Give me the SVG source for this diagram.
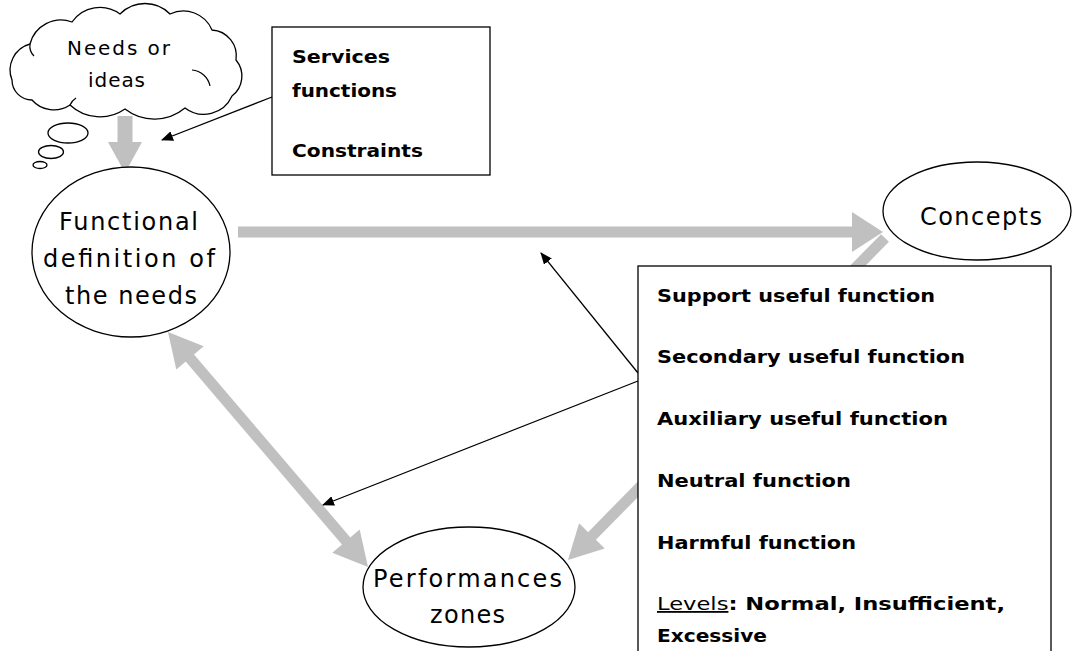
<svg xmlns="http://www.w3.org/2000/svg" width="1073" height="651" viewBox="0 0 1073 651">
<style>
.shape{fill:#fff;stroke:#000;stroke-width:1.3}
.lbl{font-family:"DejaVu Sans","Liberation Sans",sans-serif;fill:#000;text-anchor:middle}
.bold{font-family:"DejaVu Sans","Liberation Sans",sans-serif;font-weight:bold;font-size:18px;fill:#000}
.gshaft{stroke:#c0c0c0;stroke-width:11;fill:none}
.ghead{fill:#c0c0c0;stroke:none}
.thin{stroke:#000;stroke-width:1.3;fill:none}
.curl{fill:none;stroke:#000;stroke-width:1.2}
</style>
<defs>
<marker id="ah" markerWidth="12" markerHeight="10" refX="11" refY="5" orient="auto" markerUnits="userSpaceOnUse">
<path d="M0,0 L12,5 L0,10 Z" fill="#000"/>
</marker>
</defs>
<rect width="1073" height="651" fill="#fff"/>

<g id="connectors">
<!-- cloud to functional -->
<line class="gshaft" x1="125" y1="116" x2="125" y2="145" style="stroke-width:15"/>
<polygon class="ghead" points="108,142 142,142 125,173"/>
<!-- functional to concepts -->
<line class="gshaft" x1="238" y1="232" x2="853" y2="232"/>
<polygon class="ghead" points="852,212 883,232 852,252"/>
<!-- functional <-> performances -->
<line class="gshaft" x1="189" y1="357" x2="347" y2="542"/>
<polygon class="ghead" points="168,332 176.3,369.6 203.7,346.2"/>
<polygon class="ghead" points="368,567 332.3,552.8 359.7,529.4"/>
<!-- concepts to performances -->
<line class="gshaft" x1="885" y1="238" x2="591" y2="537"/>
<polygon class="ghead" points="568,560 604.7,548.4 579.1,523.2"/>
<!-- thin black arrows -->
<line class="thin" x1="272" y1="97" x2="162" y2="140" marker-end="url(#ah)"/>
<line class="thin" x1="638" y1="373" x2="541" y2="253" marker-end="url(#ah)"/>
<line class="thin" x1="638" y1="381" x2="323" y2="505" marker-end="url(#ah)"/>
</g>

<g id="needs">
<path class="shape" d="M12,80 A27,27 0 0 1 30,44 A32,32 0 0 1 72,22 A34,34 0 0 1 120,14 A35,35 0 0 1 170,14 A31,31 0 0 1 212,30 A26,26 0 0 1 236,60 A25,25 0 0 1 232,96 A31,31 0 0 1 185,108 A48,48 0 0 1 125,109 A44,44 0 0 1 70,105 A29,29 0 0 1 32,100 A20,20 0 0 1 12,80 Z"/>
<path class="curl" d="M30,44 A14,14 0 0 0 34,56"/>
<path class="curl" d="M192,70 A20,20 0 0 1 210,86"/>
<path class="curl" d="M70,105 A16,16 0 0 1 76,98"/>
<ellipse class="shape" cx="68" cy="133" rx="20" ry="10"/>
<ellipse class="shape" cx="51" cy="152" rx="12.5" ry="6.5"/>
<ellipse class="shape" cx="40" cy="165" rx="7" ry="3.5"/>
<text class="lbl" font-size="20" x="118.5" y="55" textLength="103" lengthAdjust="spacing">Needs or</text>
<text class="lbl" font-size="20" x="116.5" y="87" textLength="57" lengthAdjust="spacing">ideas</text>
</g>

<g id="constraints">
<rect class="shape" x="272" y="27" width="218" height="148"/>
<text class="bold" x="292" y="63" textLength="98" lengthAdjust="spacingAndGlyphs">Services</text>
<text class="bold" x="292" y="97" textLength="105" lengthAdjust="spacingAndGlyphs">functions</text>
<text class="bold" x="292" y="157" textLength="131" lengthAdjust="spacingAndGlyphs">Constraints</text>
</g>

<g id="functional">
<ellipse class="shape" cx="131" cy="252" rx="99" ry="85"/>
<text class="lbl" font-size="24" x="128.5" y="230" textLength="139" lengthAdjust="spacing">Functional</text>
<text class="lbl" font-size="24" x="129" y="267" textLength="172" lengthAdjust="spacing">definition of</text>
<text class="lbl" font-size="24" x="131" y="304" textLength="132" lengthAdjust="spacing">the needs</text>
</g>

<g id="concepts">
<ellipse class="shape" cx="977" cy="211" rx="94" ry="49"/>
<text class="lbl" font-size="24" x="981" y="225" textLength="122" lengthAdjust="spacing">Concepts</text>
</g>

<g id="performances">
<ellipse class="shape" cx="469" cy="587" rx="106" ry="60"/>
<text class="lbl" font-size="24" x="467.5" y="587" textLength="189" lengthAdjust="spacing">Performances</text>
<text class="lbl" font-size="24" x="467.5" y="623" textLength="75" lengthAdjust="spacing">zones</text>
</g>

<g id="functions">
<rect class="shape" x="638" y="266" width="413" height="400"/>
<text class="bold" x="657" y="302" textLength="278" lengthAdjust="spacingAndGlyphs">Support useful function</text>
<text class="bold" x="657" y="363" textLength="308" lengthAdjust="spacingAndGlyphs">Secondary useful function</text>
<text class="bold" x="657" y="425" textLength="291" lengthAdjust="spacingAndGlyphs">Auxiliary useful function</text>
<text class="bold" x="657" y="487" textLength="194" lengthAdjust="spacingAndGlyphs">Neutral function</text>
<text class="bold" x="657" y="549" textLength="199" lengthAdjust="spacingAndGlyphs">Harmful function</text>
<text class="bold" x="657" y="610" textLength="348" lengthAdjust="spacingAndGlyphs"><tspan style="font-weight:normal" text-decoration="underline">Levels</tspan>: Normal, Insufficient,</text>
<text class="bold" x="657" y="642" textLength="110" lengthAdjust="spacingAndGlyphs">Excessive</text>
</g>
</svg>
